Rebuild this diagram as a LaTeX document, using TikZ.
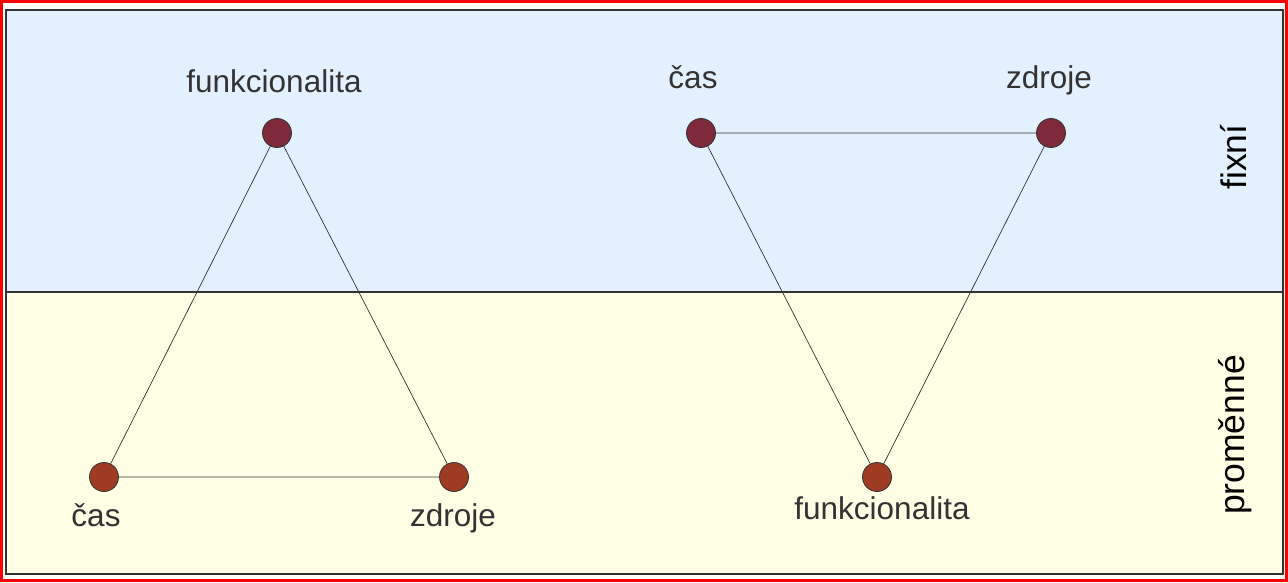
\documentclass[tikz,border=0pt]{standalone}
\usepackage{fontspec}
\setmainfont{Liberation Sans}
\usetikzlibrary{positioning}

\definecolor{fixbg}{HTML}{E3F1FF}
\definecolor{varbg}{HTML}{FFFFE6}
\definecolor{fixdot}{HTML}{7F2A3C}
\definecolor{vardot}{HTML}{9E3B22}
\definecolor{ink}{HTML}{333333}

\tikzset{
  dot/.style={circle,draw=ink,line width=0.8pt,minimum size=29pt,inner sep=0pt,outer sep=0pt},
  fixed/.style={dot,fill=fixdot},
  free/.style={dot,fill=vardot},
  lbl/.style={font=\fontsize{31.5}{36}\selectfont,text=ink,inner sep=0pt,anchor=base},
  side/.style={font=\fontsize{35.5}{40}\selectfont,inner sep=0pt,rotate=90},
  tie/.style={draw=ink,line width=0.7pt}
}

\begin{document}
\begin{tikzpicture}[x=1pt,y=-1pt]
\useasboundingbox (0,0) rectangle (1288,582);
% bands
\fill[fixbg] (6,10) rectangle (1283,292);
\fill[varbg] (6,292) rectangle (1283,574);
\draw[ink,line width=1.5pt] (6,292) -- (1283,292);
\draw[ink,line width=2pt] (6,10) rectangle (1283,574);
\draw[red,line width=3pt] (1.5,1.5) rectangle (1286.5,580.5);

% left triangle
\node[fixed] (lf) at (277,133) {};
\node[free] (lc) at (104,477) {};
\node[free] (lz) at (454,477) {};
\path[tie] (lf) -- (lc) (lf) -- (lz) (lc) -- (lz);
\node[lbl] (lfl) at (274,92) {funkcionalita};
\node[lbl] (lcl) at (96,526) {čas};
\node[lbl] (lzl) at (453,526) {zdroje};

% right triangle
\node[fixed] (rc) at (701,133) {};
\node[fixed] (rz) at (1051,133) {};
\node[free] (rf) at (877,477) {};
\path[tie] (rc) -- (rz) (rc) -- (rf) (rz) -- (rf);
\node[lbl] (rcl) at (693,88) {čas};
\node[lbl] (rzl) at (1049,88) {zdroje};
\node[lbl] (rfl) at (882,519) {funkcionalita};

% band names
\node[side] (fix) at (1233,157) {fixní};
\node[side] (var) at (1235,435) {proměnné};
\end{tikzpicture}
\end{document}
